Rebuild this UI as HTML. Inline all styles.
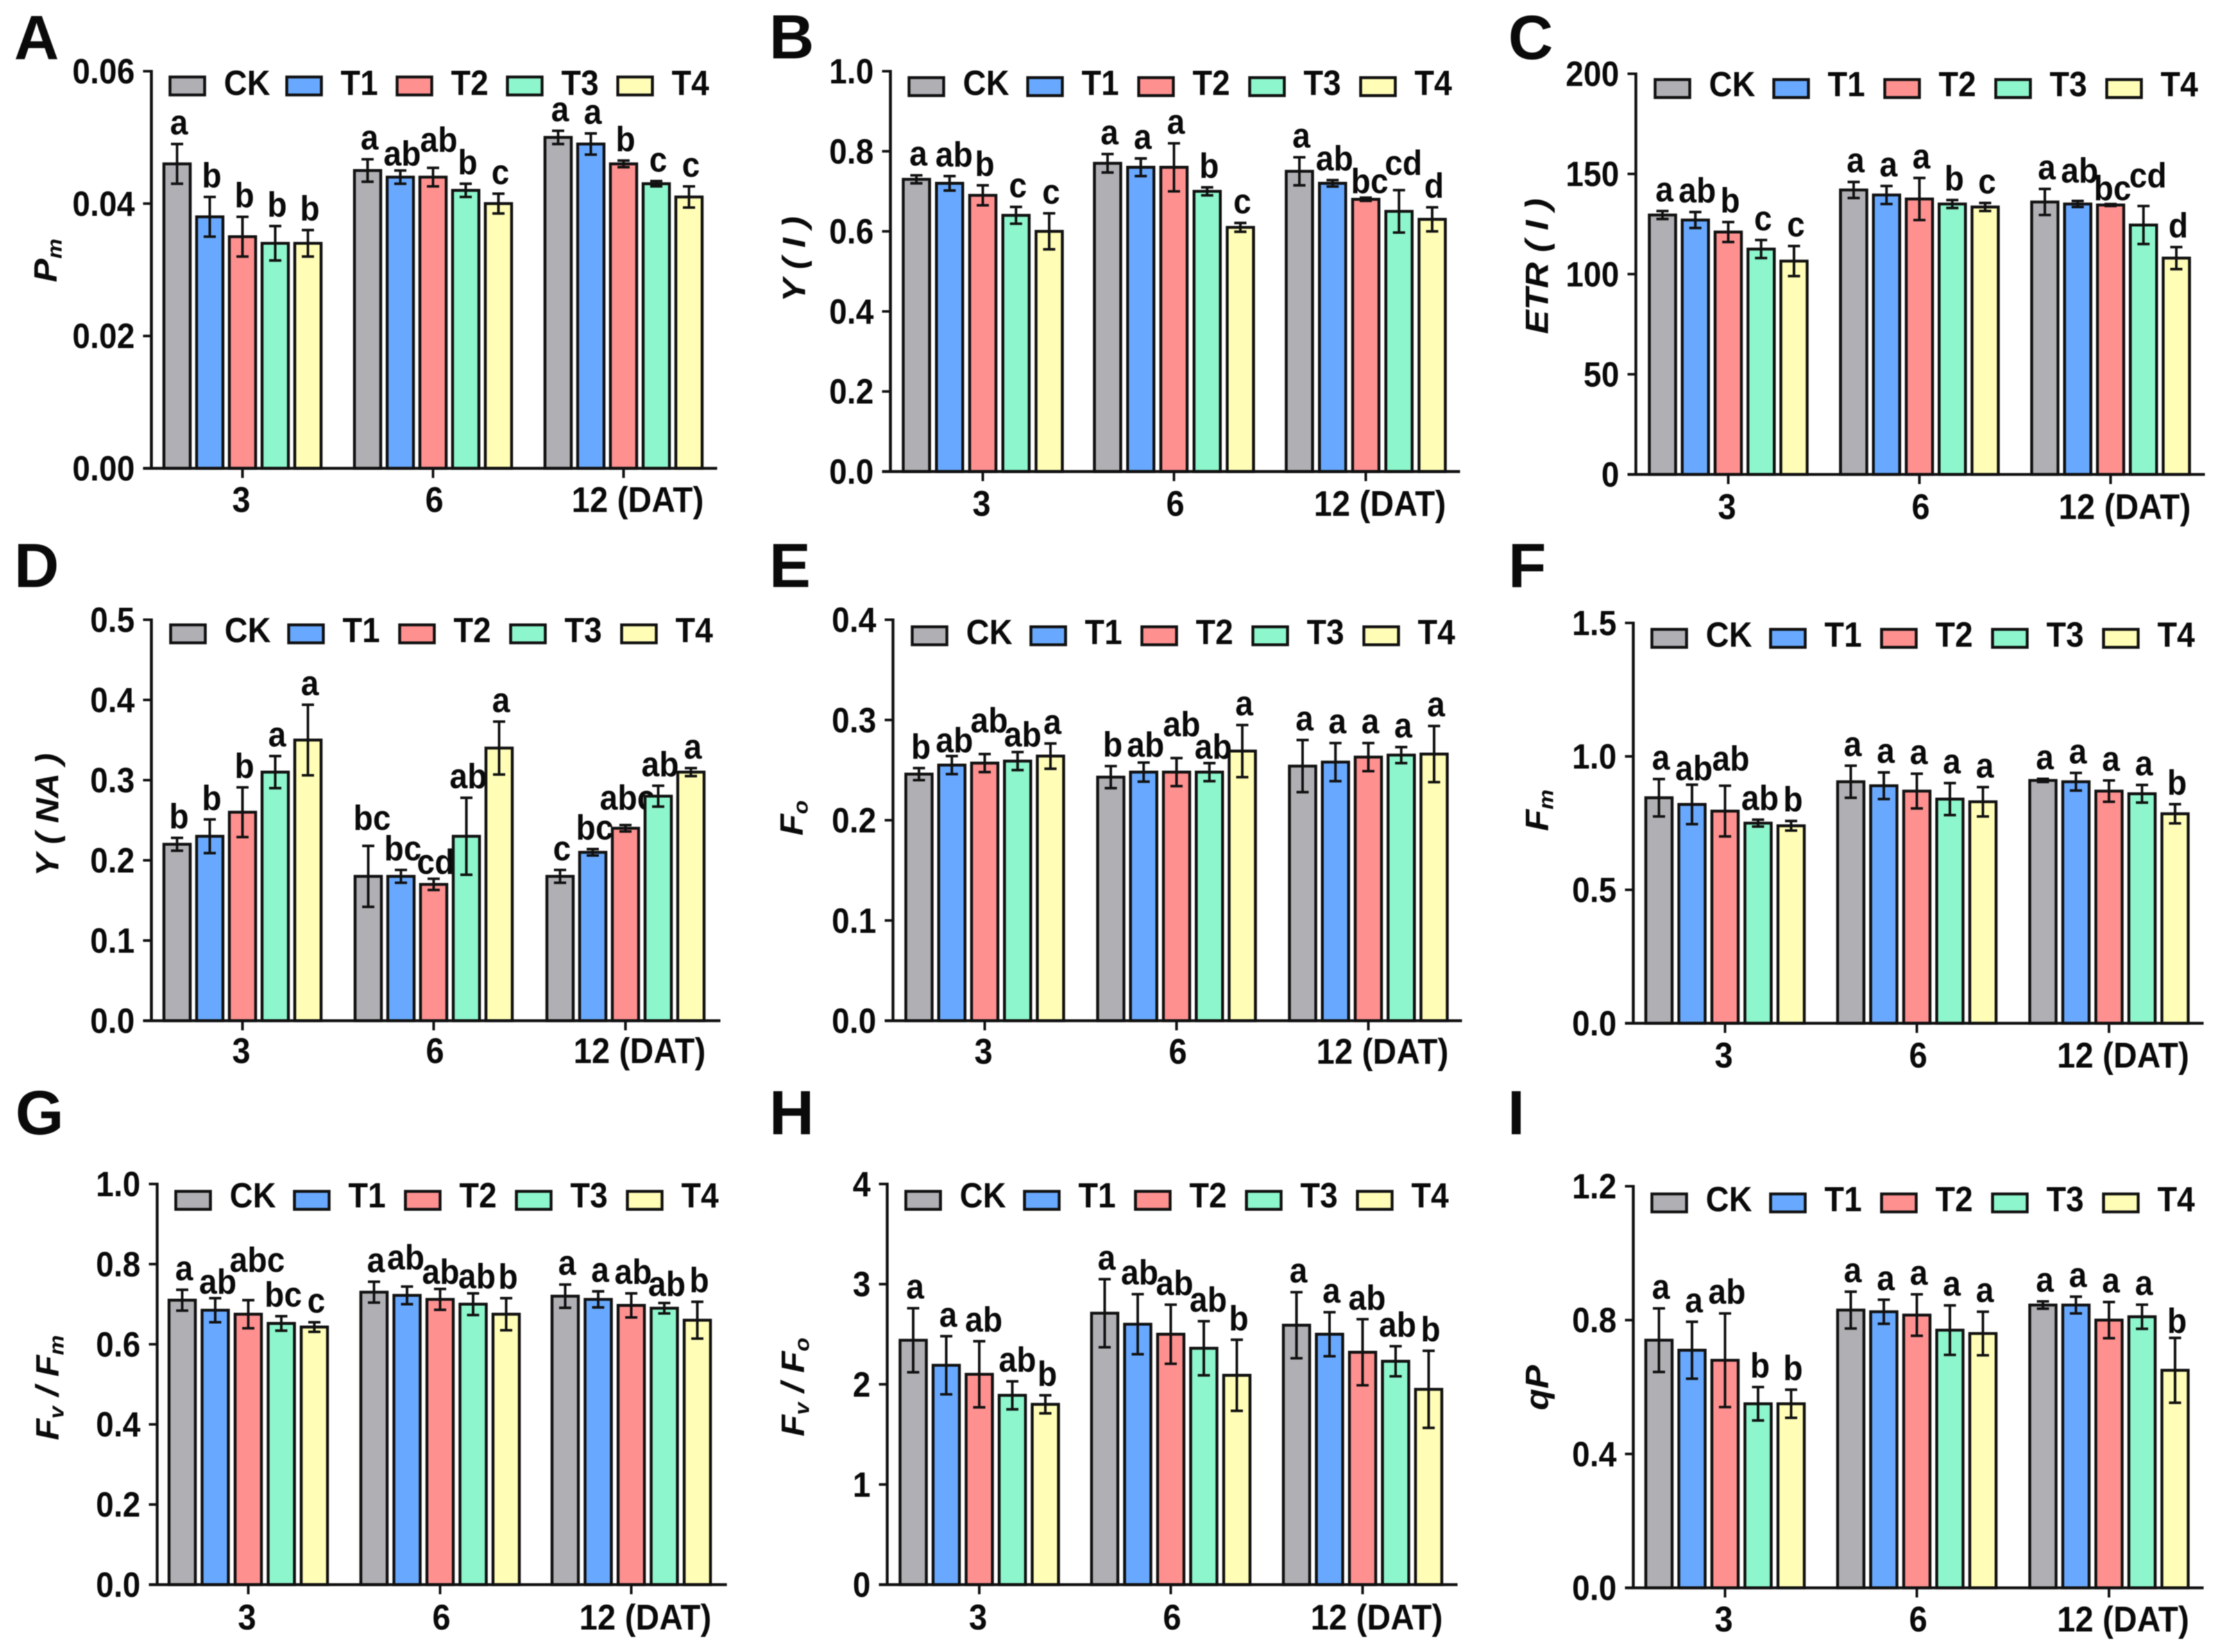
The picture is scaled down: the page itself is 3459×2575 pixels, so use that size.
<!DOCTYPE html>
<html lang="en">
<head>
<meta charset="utf-8">
<title>Chlorophyll fluorescence parameters</title>
<style>
html,body{margin:0;padding:0;background:#fff;}
svg{display:block;filter:blur(0.7px);}
text{font-family:"Liberation Sans",Arial,sans-serif;font-weight:700;fill:#0a0a0a;}
.panel-letter{font-size:97px;}
.ytitle{font-size:50px;font-style:italic;}
.sub{font-size:32px;}
.tick{font-size:50px;}
.cat{font-size:51px;}
.leg{font-size:50px;}
.sig{font-size:50px;}
</style>
</head>
<body>
<svg id="figure" xmlns="http://www.w3.org/2000/svg" width="3459" height="2575" viewBox="0 0 3459 2575">
  <rect x="0" y="0" width="3459" height="2575" fill="#fff"/>

  <text class="panel-letter" x="22" y="92">A</text>
  <text class="panel-letter" x="1199" y="91">B</text>
  <text class="panel-letter" x="2351" y="92">C</text>
  <text class="panel-letter" x="22" y="915">D</text>
  <text class="panel-letter" x="1199" y="915">E</text>
  <text class="panel-letter" x="2351" y="915">F</text>
  <text class="panel-letter" x="24" y="1768">G</text>
  <text class="panel-letter" x="1199" y="1768">H</text>
  <text class="panel-letter" x="2350" y="1768">I</text>

  <text class="ytitle" text-anchor="middle" transform="translate(88,406) rotate(-90) scale(1.1,1)">P<tspan class="sub" dy="8">m</tspan></text>
  <text class="ytitle" text-anchor="middle" transform="translate(1255,404) rotate(-90) scale(1.1,1)">Y ( I )</text>
  <text class="ytitle" text-anchor="middle" transform="translate(2413,415) rotate(-90) scale(1.12,1)">ETR ( I )</text>
  <text class="ytitle" text-anchor="middle" transform="translate(91,1270) rotate(-90) scale(1.08,1)">Y ( NA )</text>
  <text class="ytitle" text-anchor="middle" transform="translate(1251,1275) rotate(-90) scale(1.1,1)">F<tspan class="sub" dy="8">o</tspan></text>
  <text class="ytitle" text-anchor="middle" transform="translate(2413,1263) rotate(-90) scale(1.1,1)">F<tspan class="sub" dy="8">m</tspan></text>
  <text class="ytitle" text-anchor="middle" transform="translate(91,2163) rotate(-90) scale(1.1,1)">F<tspan class="sub" dy="8">v</tspan><tspan dy="-8"> / F</tspan><tspan class="sub" dy="8">m</tspan></text>
  <text class="ytitle" text-anchor="middle" transform="translate(1253,2162) rotate(-90) scale(1.1,1)">F<tspan class="sub" dy="8">v</tspan><tspan dy="-8"> / F</tspan><tspan class="sub" dy="8">o</tspan></text>
  <text class="ytitle" text-anchor="middle" transform="translate(2413,2163) rotate(-90) scale(1.1,1)">qP</text>
</svg>

<script>
const categories = ['3', '6', '12 (DAT)'];
const seriesNames = ['CK', 'T1', 'T2', 'T3', 'T4'];
const seriesColors = ['#B0AFB4', '#68A9FF', '#FF9090', '#8DF6CC', '#FFFDB6'];

const pmTicks = ['0.00', '0.02', '0.04', '0.06'];
const pmValues = [[0.046, 0.038, 0.035, 0.034, 0.034], [0.045, 0.044, 0.044, 0.042, 0.040], [0.050, 0.049, 0.046, 0.043, 0.041]];
const pmErrors = [[0.003, 0.003, 0.003, 0.0026, 0.002], [0.0017, 0.001, 0.0014, 0.001, 0.0015], [0.001, 0.0016, 0.0005, 0.0004, 0.0016]];
const pmLetters = [['a', 'b', 'b', 'b', 'b'], ['a', 'ab', 'ab', 'b', 'c'], ['a', 'a', 'b', 'c', 'c']];

const yiTicks = ['0.0', '0.2', '0.4', '0.6', '0.8', '1.0'];
const yiValues = [[0.73, 0.72, 0.69, 0.64, 0.60], [0.77, 0.76, 0.76, 0.70, 0.61], [0.75, 0.72, 0.68, 0.65, 0.63]];
const yiErrors = [[0.01, 0.018, 0.025, 0.021, 0.045], [0.023, 0.022, 0.06, 0.01, 0.011], [0.035, 0.008, 0.004, 0.053, 0.03]];
const yiLetters = [['a', 'ab', 'b', 'c', 'c'], ['a', 'a', 'a', 'b', 'c'], ['a', 'ab', 'bc', 'cd', 'd']];

const etrTicks = ['0', '50', '100', '150', '200'];
const etrValues = [[129.5, 127, 121, 112.5, 106.5], [142, 139.5, 137.5, 135, 133.5], [136, 135, 134.5, 124.5, 108]];
const etrErrors = [[2, 4, 5, 4.5, 7.5], [4, 4.5, 10.5, 2, 2], [6.5, 1.5, 0.5, 9.5, 5.5]];
const etrLetters = [['a', 'ab', 'b', 'c', 'c'], ['a', 'a', 'a', 'b', 'c'], ['a', 'ab', 'bc', 'cd', 'd']];

const ynaTicks = ['0.0', '0.1', '0.2', '0.3', '0.4', '0.5'];
const ynaValues = [[0.22, 0.23, 0.26, 0.31, 0.35], [0.18, 0.18, 0.17, 0.23, 0.34], [0.18, 0.21, 0.24, 0.28, 0.31]];
const ynaErrors = [[0.008, 0.021, 0.031, 0.02, 0.044], [0.038, 0.008, 0.007, 0.048, 0.033], [0.008, 0.004, 0.004, 0.013, 0.005]];
const ynaLetters = [['b', 'b', 'b', 'a', 'a'], ['bc', 'bc', 'cd', 'ab', 'a'], ['c', 'bc', 'abc', 'ab', 'a']];

const f0Ticks = ['0.0', '0.1', '0.2', '0.3', '0.4'];
const f0Values = [[0.246, 0.255, 0.257, 0.259, 0.264], [0.243, 0.248, 0.248, 0.248, 0.269], [0.254, 0.258, 0.263, 0.265, 0.266]];
const f0Errors = [[0.006, 0.009, 0.009, 0.009, 0.0126], [0.011, 0.0095, 0.014, 0.009, 0.026], [0.026, 0.019, 0.014, 0.008, 0.028]];
const f0Letters = [['b', 'ab', 'ab', 'ab', 'a'], ['b', 'ab', 'ab', 'ab', 'a'], ['a', 'a', 'a', 'a', 'a']];

const fmTicks = ['0.0', '0.5', '1.0', '1.5'];
const fmValues = [[0.845, 0.82, 0.795, 0.75, 0.74], [0.905, 0.89, 0.87, 0.84, 0.83], [0.91, 0.905, 0.87, 0.86, 0.785]];
const fmErrors = [[0.07, 0.074, 0.095, 0.013, 0.018], [0.06, 0.05, 0.065, 0.06, 0.055], [0.006, 0.033, 0.04, 0.033, 0.036]];
const fmLetters = [['a', 'ab', 'ab', 'ab', 'b'], ['a', 'a', 'a', 'a', 'a'], ['a', 'a', 'a', 'a', 'b']];

const fvfmTicks = ['0.0', '0.2', '0.4', '0.6', '0.8', '1.0'];
const fvfmValues = [[0.71, 0.685, 0.675, 0.652, 0.643], [0.73, 0.722, 0.712, 0.70, 0.675], [0.72, 0.712, 0.697, 0.69, 0.66]];
const fvfmErrors = [[0.026, 0.03, 0.035, 0.018, 0.012], [0.026, 0.022, 0.026, 0.027, 0.04], [0.029, 0.02, 0.03, 0.013, 0.046]];
const fvfmLetters = [['a', 'ab', 'abc', 'bc', 'c'], ['a', 'ab', 'ab', 'ab', 'b'], ['a', 'a', 'ab', 'ab', 'b']];

const fvf0Ticks = ['0', '1', '2', '3', '4'];
const fvf0Values = [[2.44, 2.19, 2.1, 1.89, 1.8], [2.71, 2.6, 2.5, 2.36, 2.09], [2.59, 2.5, 2.32, 2.23, 1.95]];
const fvf0Errors = [[0.32, 0.29, 0.33, 0.14, 0.09], [0.34, 0.3, 0.295, 0.27, 0.355], [0.33, 0.22, 0.33, 0.15, 0.385]];
const fvf0Letters = [['a', 'a', 'ab', 'ab', 'b'], ['a', 'ab', 'ab', 'ab', 'b'], ['a', 'a', 'ab', 'ab', 'b']];

const qpTicks = ['0.0', '0.4', '0.8', '1.2'];
const qpValues = [[0.74, 0.71, 0.68, 0.55, 0.55], [0.83, 0.825, 0.815, 0.77, 0.76], [0.845, 0.845, 0.80, 0.81, 0.65]];
const qpErrors = [[0.095, 0.085, 0.14, 0.05, 0.042], [0.055, 0.036, 0.062, 0.074, 0.065], [0.011, 0.025, 0.054, 0.036, 0.097]];
const qpLetters = [['a', 'a', 'ab', 'b', 'b'], ['a', 'a', 'a', 'a', 'a'], ['a', 'a', 'a', 'a', 'b']];

const panels = [
  {id: 'pm', ticks: pmTicks, values: pmValues, errors: pmErrors, letters: pmLetters,
   left: 236, right: 1118, top: 111, bottom: 730, centers: [378, 675, 972], catY: 798, pitch: 51,
   legX: 263, legY: 118, legBase: 148, legFirst: 182, legStep: 172,
   shifts: [[1, 1, 0, 7], [1, 2, 6, -10]]},
  {id: 'yi', ticks: yiTicks, values: yiValues, errors: yiErrors, letters: yiLetters,
   left: 1388, right: 2276, top: 111, bottom: 735, centers: [1532, 1830, 2129], catY: 804, pitch: 51.75,
   legX: 1415, legY: 119, legBase: 148, legFirst: 185, legStep: 173,
   shifts: [[0, 1, 4, 0], [2, 2, 3, 8], [2, 3, 4, -9]]},
  {id: 'etr', ticks: etrTicks, values: etrValues, errors: etrErrors, letters: etrLetters,
   left: 2550, right: 3437, top: 115, bottom: 739.5, centers: [2694, 2992, 3290], catY: 809, pitch: 51.25,
   legX: 2578, legY: 122, legBase: 150, legFirst: 185, legStep: 173,
   shifts: [[2, 1, 0, -14], [2, 2, 0, 9], [2, 3, 4, -14]]},
  {id: 'yna', ticks: ynaTicks, values: ynaValues, errors: ynaErrors, letters: ynaLetters,
   left: 236, right: 1123, top: 966, bottom: 1591, centers: [378, 676, 975], catY: 1657, pitch: 51,
   legX: 264, legY: 972, legBase: 1001, legFirst: 184, legStep: 173,
   shifts: [[1, 0, 3, -10], [1, 2, 0, 7], [2, 2, 0, -9]]},
  {id: 'f0', ticks: f0Ticks, values: f0Values, errors: f0Errors, letters: f0Letters,
   left: 1392, right: 2279, top: 966, bottom: 1591, centers: [1535, 1834, 2133], catY: 1658, pitch: 51.25,
   legX: 1420, legY: 975, legBase: 1004, legFirst: 185, legStep: 173,
   shifts: [[0, 1, 1, 9], [0, 2, 4, -19], [0, 3, 5, 6], [1, 1, 0, 6], [1, 2, 5, -19], [1, 3, 3, 8]]},
  {id: 'fm', ticks: fmTicks, values: fmValues, errors: fmErrors, letters: fmLetters,
   left: 2546, right: 3435, top: 971, bottom: 1595, centers: [2689, 2988, 3287.5], catY: 1664, pitch: 51.5,
   legX: 2573, legY: 979, legBase: 1008, legFirst: 185, legStep: 173,
   shifts: [[0, 1, 0, 8], [0, 2, 6, -9], [0, 3, 0, 0]]},
  {id: 'fvfm', ticks: fvfmTicks, values: fvfmValues, errors: fvfmErrors, letters: fvfmLetters,
   left: 245, right: 1133, top: 1845.5, bottom: 2470, centers: [387, 686, 984], catY: 2540, pitch: 51.5,
   legX: 272, legY: 1855, legBase: 1882, legFirst: 185, legStep: 173,
   shifts: [[0, 1, 1, 8], [0, 2, 11, -29], [1, 1, -5, -12], [1, 2, -2, 7], [1, 3, 3, 7], [2, 3, 1, 4]]},
  {id: 'fvf0', ticks: fvf0Ticks, values: fvf0Values, errors: fvf0Errors, letters: fvf0Letters,
   left: 1383, right: 2272, top: 1845.5, bottom: 2470, centers: [1526.5, 1825, 2124], catY: 2540, pitch: 51.5,
   legX: 1410, legY: 1855, legBase: 1882, legFirst: 185, legStep: 173,
   shifts: [[0, 2, 4, 0], [0, 3, 5, 0], [1, 2, 3, 0], [1, 3, 4, 0], [2, 2, 4, 0]]},
  {id: 'qp', ticks: qpTicks, values: qpValues, errors: qpErrors, letters: qpLetters,
   left: 2546, right: 3435, top: 1849, bottom: 2475, centers: [2689, 2988, 3287.5], catY: 2543, pitch: 51.5,
   legX: 2573, legY: 1859, legBase: 1888, legFirst: 185, legStep: 173,
   shifts: [[2, 4, 0, 7]]}
];

const NS = 'http://www.w3.org/2000/svg';
const figure = document.getElementById('figure');
const TEXT_STRETCH = 1.1;

function make(tag, parent) {
  const node = document.createElementNS(NS, tag);
  parent.appendChild(node);
  return node;
}
function geom(node, props) {
  Object.keys(props).forEach(function (k) { node.setAttribute(k, props[k]); });
  return node;
}
function placeText(node, x, y) {
  node.setAttribute('transform', 'translate(' + x + ',' + y + ') scale(1,' + TEXT_STRETCH + ')');
}

function drawPanel(p) {
  const yMax = parseFloat(p.ticks[p.ticks.length - 1]);
  const yScale = function (v) { return p.bottom - (v / yMax) * (p.bottom - p.top); };
  const xScale = function (g, s) { return p.centers[g] + (s - 2) * p.pitch; };
  const barW = 41;

  const group = make('g', figure);
  
  

  categories.forEach(function (cat, g) {
    seriesNames.forEach(function (name, s) {
      const v = p.values[g][s];
      const err = p.errors[g][s];
      const cx = xScale(g, s);

      const bar = make('rect', group);
      
      
      geom(bar, {x: cx - barW / 2, y: yScale(v), width: barW, height: p.bottom - yScale(v),
        fill: seriesColors[s], stroke: '#111', 'stroke-width': 4.5});

      const yHi = yScale(v + err);
      const yLo = yScale(v - err);
      const whisker = make('path', group);
      
      
      geom(whisker, {d: 'M' + cx + ' ' + yHi + 'V' + yLo + 'M' + (cx - 9.5) + ' ' + yHi + 'h19M' + (cx - 9.5) + ' ' + yLo + 'h19',
        fill: 'none', stroke: '#111', 'stroke-width': 4});

      const shift = p.shifts.find(function (t) { return t[0] === g && t[1] === s; }) || [g, s, 0, 0];
      const mark = make('text', group);
      
      
      geom(mark, {class: 'sig', 'text-anchor': 'middle'});
      placeText(mark, cx + 3 + shift[2], yHi - 15 + shift[3]);
      mark.textContent = p.letters[g][s];
    });

    const tick = make('line', group);
    
    
    geom(tick, {x1: p.centers[g], x2: p.centers[g], y1: p.bottom, y2: p.bottom + 15, stroke: '#111', 'stroke-width': 4});

    const label = make('text', group);
    
    
    geom(label, {class: 'cat', 'text-anchor': 'middle'});
    placeText(label, p.centers[g] + [-2, 2, 22][g], p.catY);
    label.textContent = cat;
  });

  const yAxis = make('line', group);
  
  
  geom(yAxis, {x1: p.left, x2: p.left, y1: p.top - 2, y2: p.bottom + 2, stroke: '#111', 'stroke-width': 4.5});

  const xAxis = make('line', group);
  
  
  geom(xAxis, {x1: p.left - 13, x2: p.right, y1: p.bottom, y2: p.bottom, stroke: '#111', 'stroke-width': 4.5});

  p.ticks.forEach(function (t) {
    const y = yScale(parseFloat(t));

    const yTick = make('line', group);
    
    
    geom(yTick, {x1: p.left - 13, x2: p.left, y1: y, y2: y, stroke: '#111', 'stroke-width': 4});

    const yLabel = make('text', group);
    
    
    geom(yLabel, {class: 'tick', 'text-anchor': 'end'});
    placeText(yLabel, p.left - 26, y + 19);
    yLabel.textContent = t;
  });

  seriesNames.forEach(function (name, s) {
    const sx = s === 0 ? p.legX : p.legX + p.legFirst + (s - 1) * p.legStep;

    const swatch = make('rect', group);
    
    
    geom(swatch, {x: sx + 2, y: p.legY + 2, width: 54, height: 28, fill: seriesColors[s], stroke: '#111', 'stroke-width': 4.5});

    const entry = make('text', group);
    
    
    geom(entry, {class: 'leg'});
    placeText(entry, sx + 86, p.legBase);
    entry.textContent = name;
  });
}

panels.forEach(drawPanel);
</script>
</body>
</html>
